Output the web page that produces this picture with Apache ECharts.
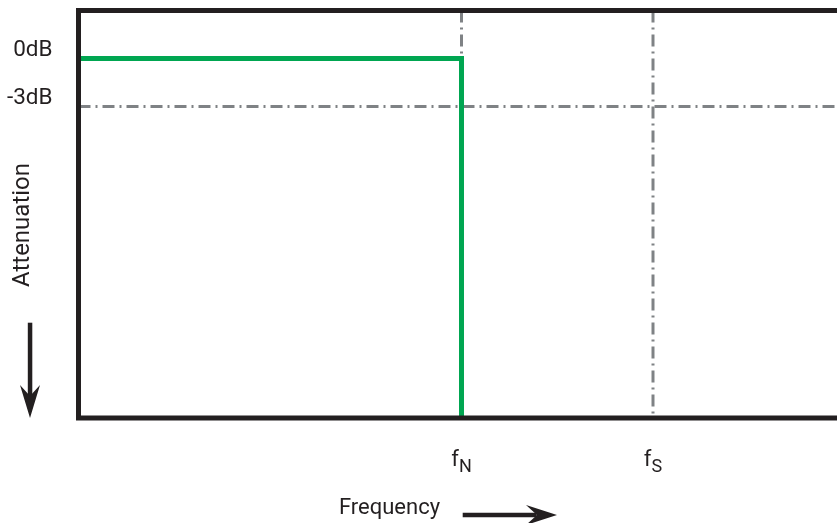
<!DOCTYPE html>
<html>
<head>
<meta charset="utf-8">
<script src="https://cdn.jsdelivr.net/npm/echarts@6/dist/echarts.min.js"></script>
<style>html,body{margin:0;padding:0;background:#fff}#c{width:837px;height:523px}</style>
</head>
<body>
<div id="c"></div>
<script>
// ---- data ----
const xMin = 0, xMax = 4;          // frequency scale (fN = 2, fS = 3)
const yMin = -22.5, yMax = 3;      // attenuation in dB
const xTickValues = [2, 3];
const xTickSubs = ['N', 'S'];
const yTickValues = [0, -3];
const yTickLabels = ['0dB', '-3dB'];
const responseX = [0, 2, 2];       // ideal brick-wall filter
const responseY = [0, 0, yMin];
const cutoff3dB = -3;
const fN = 2, fS = 3;

const black = '#231f20', green = '#00a651', gray = '#7f8285';
const font = 'Roboto';
const dashDot = [12, 5, 2, 5];

const chart = echarts.init(document.getElementById('c'), null, {renderer: 'canvas'});

const refLine = (pts) => ({
  type: 'line', data: pts, symbol: 'none', silent: true, z: 2,
  lineStyle: {color: gray, width: 3, type: dashDot, cap: 'butt'}
});

chart.setOption({
  animation: false,
  backgroundColor: '#fff',
  grid: {left: 78.5, top: 10.5, width: 766, height: 407.5, show: true,
         outerBoundsMode: 'none', containLabel: false,
         borderColor: black, borderWidth: 5, backgroundColor: 'transparent', z: 10},
  xAxis: {
    type: 'value', min: xMin, max: xMax,
    axisLine: {show: false}, axisTick: {show: false}, splitLine: {show: false},
    axisLabel: {
      customValues: xTickValues, margin: 31,
      formatter: (v) => '{a|f}{b|' + xTickSubs[xTickValues.indexOf(v)] + '}',
      rich: {
        a: {fontFamily: font, fontSize: 22, color: black, verticalAlign: 'top', lineHeight: 22},
        b: {fontFamily: font, fontSize: 18, color: black, verticalAlign: 'top', lineHeight: 18, padding: [9, 0, 0, 0]}
      }
    }
  },
  yAxis: {
    type: 'value', min: yMin, max: yMax,
    axisLine: {show: false}, axisTick: {show: false}, splitLine: {show: false},
    axisLabel: {
      customValues: yTickValues, margin: 26,
      formatter: (v) => yTickLabels[yTickValues.indexOf(v)],
      fontFamily: font, fontSize: 22.5, color: black,
      verticalAlign: 'bottom', lineHeight: 22, padding: [0, 0, -3, 0]
    }
  },
  series: [
    refLine([[xMin, cutoff3dB], [xMax, cutoff3dB]]),
    refLine([[fN, yMax], [fN, yMin]]),
    refLine([[fS, yMax], [fS, yMin]]),
    {
      type: 'line', data: responseX.map((x, i) => [x, responseY[i]]),
      symbol: 'none', silent: true, z: 5,
      lineStyle: {color: green, width: 5, join: 'miter', cap: 'butt'}
    }
  ],
  graphic: [
    {type: 'text', x: 23, y: 225, rotation: Math.PI / 2,
     style: {text: 'Attenuation', fontFamily: font, fontSize: 24, fill: black, align: 'center', verticalAlign: 'middle'}},
    {type: 'rect', shape: {x: 27.8, y: 322.7, width: 4.5, height: 74}, style: {fill: black}},
    {type: 'polygon', shape: {points: [[20, 385], [30, 396], [40, 385], [30, 418]]}, style: {fill: black}},
    {type: 'text', x: 389.5, y: 508,
     style: {text: 'Frequency', fontFamily: font, fontSize: 22, fill: black, align: 'center', verticalAlign: 'middle'}},
    {type: 'rect', shape: {x: 462.7, y: 512.8, width: 74, height: 4.5}, style: {fill: black}},
    {type: 'polygon', shape: {points: [[526, 505], [537, 515], [526, 525], [557, 515]]}, style: {fill: black}}
  ]
});
</script>
</body>
</html>
